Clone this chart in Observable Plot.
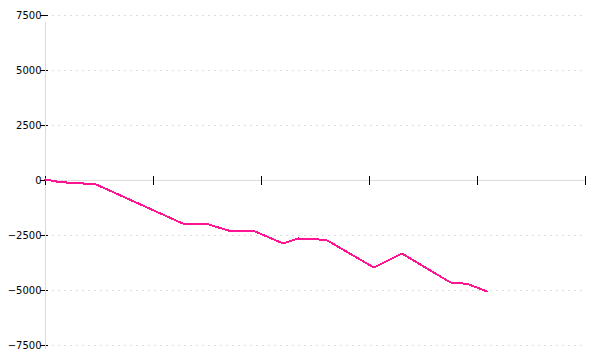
<!DOCTYPE html>
<html>
<head>
<meta charset="utf-8">
<script src="https://cdn.jsdelivr.net/npm/d3@7"></script>
<script src="https://cdn.jsdelivr.net/npm/@observablehq/plot@0.6"></script>
<style>
  html, body { margin: 0; padding: 0; background: #fff; }
  svg { shape-rendering: crispEdges; }
</style>
</head>
<body>
<div id="chart"></div>
<script>
const xValues = [0, 1.0, 1.9, 3.5, 4.7, 12.7, 14.8, 17.1, 18.2, 19.2, 22.0, 23.4, 25.3, 26.1, 30.4, 33.0, 37.5, 38.4, 39.2, 40.9];
const yValues = [45, -45, -90, -136, -182, -1955, -1955, -2295, -2318, -2273, -2864, -2636, -2682, -2727, -3955, -3318, -4636, -4659, -4727, -5045];
const yTicks = [-7500, -5000, -2500, 0, 2500, 5000, 7500];
const xTicks = [0, 10, 20, 30, 40, 50];

const data = xValues.map((x, i) => ({x, y: yValues[i]}));

const chart = Plot.plot({
  width: 600,
  height: 360,
  marginLeft: 45,
  marginRight: 15,
  marginTop: 15,
  marginBottom: 15,
  style: {fontFamily: "DejaVu Sans", fontSize: "10px", background: "#fff"},
  x: {domain: [0, 50], axis: null},
  y: {domain: [-7500, 7500], axis: null},
  marks: [
    Plot.ruleY(yTicks.filter(d => d !== 0), {y: d => d, stroke: "#dcdcdc", strokeDasharray: "2,4", insetLeft: 7}),
    Plot.axisY({ticks: yTicks, label: null, tickSize: 8, dx: 3, tickPadding: -1, stroke: "#000", strokeOpacity: 1, fill: "#000", tickFormat: d => String(d).replace("-", "\u2212")}),
    Plot.ruleX([0], {stroke: "#dcdcdc", strokeWidth: 1.5, y1: () => 7200, y2: () => -7700}),
    Plot.ruleY([0], {stroke: "#dcdcdc", strokeWidth: 1.5}),
    Plot.ruleX(xTicks, {x: d => d, y1: () => 0, y2: () => 0, insetTop: -4, insetBottom: -5, stroke: "#000"}),
    Plot.line(data, {x: "x", y: "y", stroke: "#ff1493", strokeWidth: 2})
  ]
});
document.getElementById("chart").appendChild(chart);
</script>
</body>
</html>
